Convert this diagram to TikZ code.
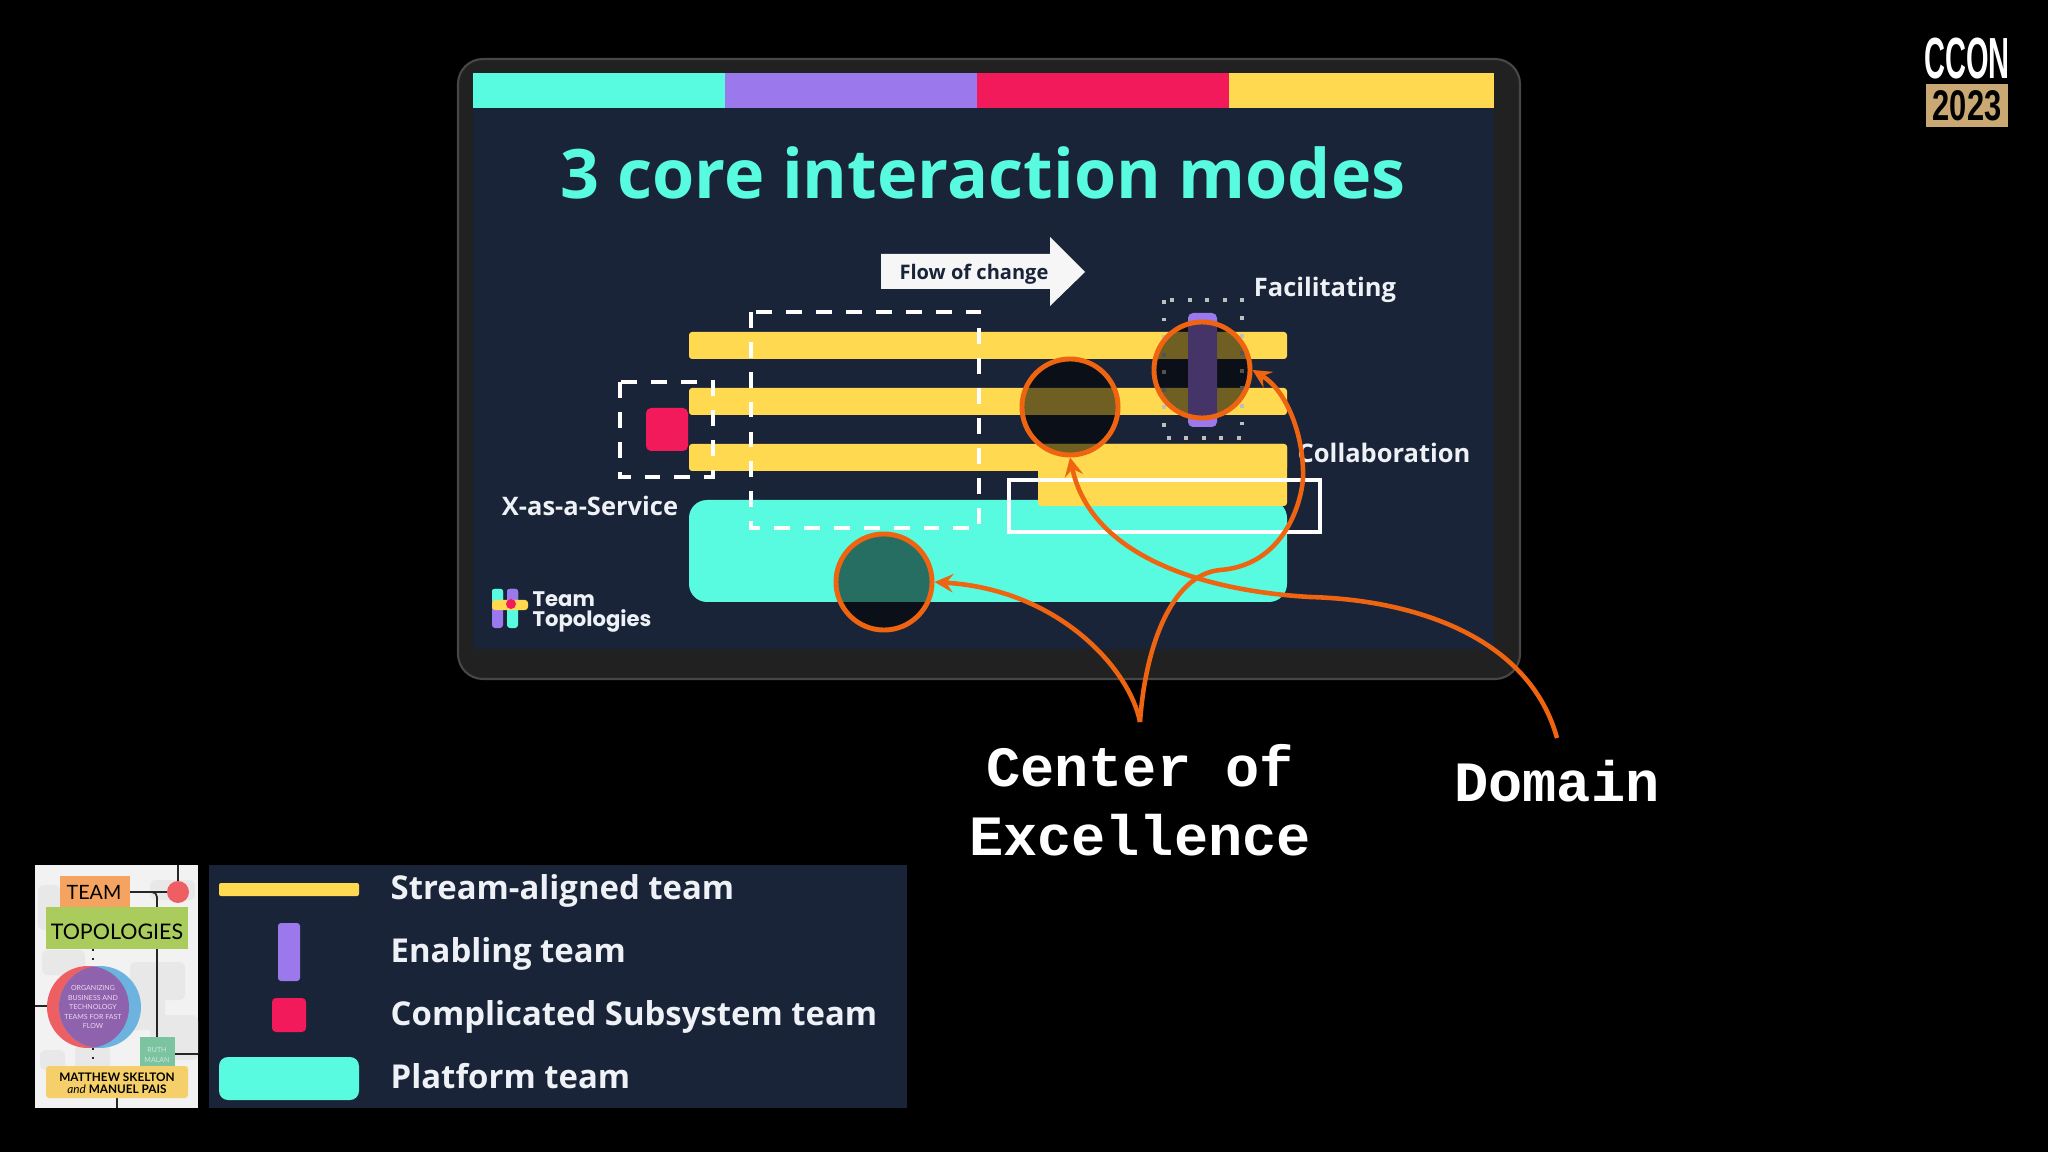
\documentclass[tikz,border=0pt]{standalone}
\usepackage{fontspec}
\usepackage{xcolor}
\usetikzlibrary{arrows,shapes,positioning}
\setmainfont{Open Sans}
\newfontfamily\monofont{Liberation Mono}
\newfontfamily\logofont{Poppins}
\newfontfamily\condfont{Liberation Sans}
\newfontfamily\bookfont{Lato}
\definecolor{ttnavy}{HTML}{1A2438}
\definecolor{ttteal}{HTML}{58FBE0}
\definecolor{ttpurple}{HTML}{9B78EC}
\definecolor{ttred}{HTML}{F21A5A}
\definecolor{ttyellow}{HTML}{FFD94F}
\definecolor{ttorange}{HTML}{EE6410}
\definecolor{ttlabel}{HTML}{EEF1F5}
\definecolor{tttan}{HTML}{C9A873}
\definecolor{bookorange}{HTML}{F4A460}
\definecolor{bookblue}{HTML}{6DB3DF}
\definecolor{bookgreen}{HTML}{A9CC5C}
\definecolor{bookred}{HTML}{EE5F63}
\definecolor{bookpurple}{HTML}{8E62AC}
\definecolor{bookmint}{HTML}{7CC4A0}
\definecolor{booksand}{HTML}{F5D06A}
\tikzstyle{slidetext} = [text=ttlabel,font=\bfseries\fontsize{7.25}{8}\selectfont,inner sep=0pt]
\tikzstyle{legendtext} = [text=ttlabel,font=\bfseries\fontsize{9.35}{11}\selectfont,inner sep=0pt,anchor=base west]
\tikzstyle{calltext} = [text=white,font=\monofont\bfseries\fontsize{16.2}{19.6}\selectfont,align=center,inner sep=0pt]
\tikzstyle{lens} = [circle,draw=ttorange,line width=1.4pt,fill=black,fill opacity=0.56,minimum size=0.96cm,inner sep=0pt]
\tikzstyle{callout} = [line width=1.3pt,->,>=stealth,color=ttorange]
\tikzstyle{dashbox} = [draw=white,line width=1.1pt,dash pattern=on 4.5pt off 4pt]
\tikzstyle{booktext} = [inner sep=0pt,align=center,font=\bookfont]

\begin{document}
\begin{tikzpicture}[x=0.01cm,y=-0.01cm]
\useasboundingbox (0,0) rectangle (2048,1152);
\fill[black] (0,0) rectangle (2048,1152);

% Tablet and screen
\draw[fill=black!87,draw=black!72,line width=0.6pt,rounded corners=0.25cm] (458,59) rectangle (1520,679);
\fill[ttnavy] (473,108) rectangle (1494,649);

% Colour strip
\foreach \x/\y/\c in {473/725/ttteal,725/977/ttpurple,977/1229/ttred,1229/1494/ttyellow} {
    \fill[\c] (\x,73) rectangle (\y,108);
}

% Title
\node[text=ttteal,font=\bfseries\fontsize{19.4}{22}\selectfont,inner sep=0pt] (title) at (983,173) {3 core interaction modes};

% Flow arrow
\fill[white!96!ttnavy] (881,254) -- (1050,254) -- (1050,237) -- (1085,272) -- (1050,306) -- (1050,289) -- (881,289) -- cycle;
\node[text=ttnavy,font=\bfseries\fontsize{5.7}{7}\selectfont,inner sep=0pt] (flow) at (974,274) {Flow of change};

% Teams
\fill[ttteal,rounded corners=0.18cm] (689,500) rectangle (1287,602);
\foreach \y in {332,388,444} {
    \fill[ttyellow,rounded corners=0.03cm] (689,\y) rectangle (1287,\y+27);
}
\fill[ttyellow,rounded corners=0.03cm] (1038,444) rectangle (1287,506);
\fill[ttred,rounded corners=0.05cm] (646,408) rectangle (688,451);
\fill[ttpurple,rounded corners=0.05cm] (1188,313) rectangle (1217,427);

% Interaction boxes
\draw[dashbox] (751,312) rectangle (979,528);
\draw[dashbox] (620,382) rectangle (713,477);
\draw[draw=white,line width=0.9pt] (1009,480) rectangle (1320,532);
\draw[draw=white!75!black,line width=1.2pt,dash pattern=on 1.1pt off 3.9pt] (1164,300) rectangle (1242,438);

% Labels
\node[slidetext] (facil) at (1325,290) {Facilitating};
\node[slidetext,anchor=west] (collab) at (1297,453) {Collaboration};
\node[slidetext] (xaas) at (590,506) {X-as-a-Service};

% Logo
\fill[ttpurple,rounded corners=0.03cm] (492,589) rectangle (503,628);
\fill[ttteal,rounded corners=0.02cm] (492,589) rectangle (503,602);
\fill[ttteal,rounded corners=0.03cm] (507,589) rectangle (518,628);
\fill[ttpurple,rounded corners=0.02cm] (507,589) rectangle (518,602);
\fill[ttyellow,rounded corners=0.03cm] (492,600) rectangle (528,610);
\fill[ttred] (511,604) circle (5);
\node[text=ttlabel,font=\logofont\bfseries\fontsize{6}{5.9}\selectfont,align=left,inner sep=0pt,anchor=west] (logotext) at (532,612) {Team\\[0pt]Topologies};

% Lenses
\node[lens] (lensenable) at (1202,370) {};
\node[lens] (lensmid) at (1070,407) {};
\node[lens] (lensplat) at (884,582) {};

% Callouts
\node[calltext] (coe) at (1140,800) {Center of\\Excellence};
\node[calltext] (domain) at (1557,781) {Domain};
\coordinate (coestart) at (1140,722);
\coordinate (domstart) at (1557,738);
\draw[callout] (coestart) .. controls (1130,670) and (1060,590) .. (lensplat.east);
\draw[callout] (coestart) .. controls (1145,650) and (1170,575) .. (1220,570)
    .. controls (1290,565) and (1305,490) .. (1303,470)
    .. controls (1302,430) and (1285,390) .. (lensenable.east);
\draw[callout] (domstart) .. controls (1530,640) and (1420,600) .. (1310,597)
    .. controls (1190,590) and (1090,550) .. (lensmid.south);

% Legend
\fill[ttnavy] (209,865) rectangle (907,1108);
\fill[ttyellow,rounded corners=0.02cm] (219,883) rectangle (359,896);
\fill[ttpurple,rounded corners=0.03cm] (278,923) rectangle (300,981);
\fill[ttred,rounded corners=0.04cm] (272,998) rectangle (306,1032);
\fill[ttteal,rounded corners=0.09cm] (219,1057) rectangle (359,1100);
\node[legendtext] (legstream) at (390,899) {Stream-aligned team};
\node[legendtext] (legenable) at (390,962) {Enabling team};
\node[legendtext] (legcomp) at (390,1025) {Complicated Subsystem team};
\node[legendtext] (legplat) at (390,1088) {Platform team};

% Book cover
\fill[white!95!black] (35,865) rectangle (198,1108);
\foreach \a/\b/\c/\d in {42/950/85/975,130/962/185/1000,125/995/165/1030,40/1050/65/1070,150/1015/198/1060,75/1045/110/1078,38/885/60/930,150/880/195/900} {
    \fill[black!9,rounded corners=0.06cm] (\a,\b) rectangle (\c,\d);
}
\draw[black!85,line width=0.5pt] (178,865) -- (178,892) (130,892) -- (167,892);
\draw[black!85,line width=0.5pt,rounded corners=0.05cm] (150,892) -- (157,892) -- (157,1040);
\draw[black!85,line width=0.5pt] (35,1006) -- (47,1006) (175,1054) -- (198,1054) (117,1098) -- (117,1108);
\draw[black!85,line width=0.5pt,dotted] (93,949) -- (93,966) (93,1048) -- (93,1066);
\fill[bookorange] (60,876) rectangle (130,918);
\fill[bookblue] (62,907) rectangle (129,918);
\fill[bookgreen] (46,907) rectangle (188,949);
\fill[bookred] (178,892) circle (11);
\fill[bookred] (88,1007) circle (41);
\fill[bookblue] (100,1007) circle (41);
\begin{scope}
\clip (88,1007) circle (41);
\fill[bookpurple] (100,1007) circle (41);
\end{scope}
\fill[bookmint] (140,1037) rectangle (175,1072);
\fill[booksand,rounded corners=0.03cm] (46,1066) rectangle (188,1098);
\node[booktext,font=\bookfont\fontsize{5.6}{6}\selectfont] (bookteam) at (94,892) {TEAM};
\node[booktext,font=\bookfont\fontsize{6.1}{8}\selectfont] (booktopo) at (117,932) {TOPOLOGIES};
\node[booktext,text=white!85!violet,font=\bookfont\fontsize{2}{2.7}\selectfont] (bookblurb) at (93,1007) {ORGANIZING\\BUSINESS AND\\TECHNOLOGY\\TEAMS FOR FAST\\FLOW};
\node[booktext,text=white!80!teal,font=\bookfont\fontsize{2}{2.7}\selectfont] (bookruth) at (157,1055) {RUTH\\MALAN};
\node[booktext,font=\bookfont\bfseries\fontsize{3.35}{3.3}\selectfont] (bookauthor) at (117,1083) {MATTHEW SKELTON\\{\itshape\mdseries and} MANUEL PAIS};

% Conference mark
\node[text=white,font=\condfont\bfseries\fontsize{16.5}{17}\selectfont,xscale=0.5,inner sep=0pt] (ccon) at (1967,59) {CCON};
\fill[tttan] (1926,84) rectangle (2008,127);
\node[text=black,font=\condfont\bfseries\fontsize{12.2}{14}\selectfont,xscale=0.72,inner sep=0pt] (year) at (1967,106) {2023};
\end{tikzpicture}
\end{document}
